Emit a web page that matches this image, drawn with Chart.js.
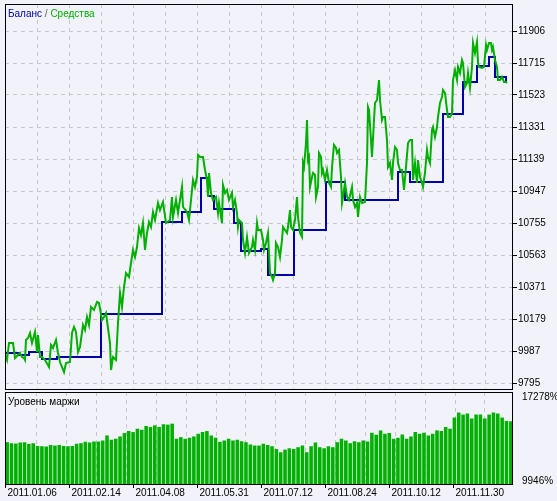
<!DOCTYPE html>
<html><head><meta charset="utf-8">
<script src="https://cdn.jsdelivr.net/npm/chart.js@4"></script>
<style>
html,body{margin:0;padding:0;background:#f2f2fa;overflow:hidden;}
canvas{position:absolute;left:0;display:block;}
#c1{top:0;}
#c2{top:391px;}
</style></head><body>
<canvas id="c1" width="557" height="391" style="width:557px;height:391px"></canvas>
<canvas id="c2" width="557" height="110" style="width:557px;height:110px"></canvas>
<script>
const priceTicks=[9795,9987,10179,10371,10563,10755,10947,11139,11331,11523,11715,11906];
const dateLabels=["2011.01.06","2011.02.14","2011.04.08","2011.05.31","2011.07.12","2011.08.24","2011.10.12","2011.11.30"];
const marginTicks=[9946,17278];
const eqT=[5,7,9,13,15,18,20,22,24,25,26,28,30,32,35,37,38,40,42,45,49,51,53,56,58,60,64,66,70,72,74,76,78,80,83,85,87,89,91,94,97,99,102,104,106,110,111,113,116,118,120,122,124,126,129,131,133,135,137,139,141,143,145,147,149,151,153,155,158,160,163,166,170,172,173,176,178,182,183,187,189,191,193,195,197,198,200,203,205,207,208,209,211,213,216,218,219,222,223,225,227,229,232,233,235,237,238,239,242,243,245,247,249,252,253,255,257,258,261,263,264,266,268,269,270,272,273,275,276,278,280,282,283,285,287,288,290,291,293,295,297,298,300,302,303,304,306,307,308,309,310,312,313,315,316,318,319,321,322,323,325,327,329,331,332,334,336,337,339,341,342,343,345,347,349,352,353,355,357,358,360,362,365,367,368,369,371,372,374,375,377,379,380,382,383,385,387,388,390,392,393,395,397,398,400,402,404,406,408,410,412,413,415,417,418,420,422,423,425,427,428,430,432,433,435,437,438,440,442,443,445,447,448,450,452,453,455,457,458,460,462,463,465,467,468,470,472,473,475,477,478,479,482,484,486,487,489,491,492,493,495,497,498,500,502,504,506,507];
const eqV=[9969,9933,10035,10035,9945,9963,9975,9951,9945,9933,10053,10065,10095,10035,10101,9981,10083,9951,9951,9933,9891,10023,10005,10053,9975,9921,9861,9915,9921,10095,10131,10101,9981,10011,10143,10113,10191,10143,10251,10233,10281,10275,10173,10191,10215,10035,9873,9951,9933,10155,10335,10251,10371,10455,10431,10515,10593,10551,10611,10725,10683,10755,10593,10695,10761,10731,10821,10773,10875,10833,10881,10755,10773,10911,10791,10893,10815,10971,10851,10821,10773,10893,11013,10971,11031,11163,11151,11151,11073,11013,10911,11055,10935,10893,10911,10815,10875,10755,10983,10935,10953,10893,10935,10851,10893,10815,10731,10773,10755,10653,10575,10671,10575,10611,10653,10593,10755,10713,10713,10653,10593,10635,10695,10575,10455,10431,10413,10455,10635,10611,10551,10653,10731,10713,10695,10731,10833,10731,10713,10773,10911,10791,10695,10671,11115,11091,11235,11373,11133,11151,10971,11031,11055,11043,10911,10971,11175,11151,11055,11073,11013,11073,10995,10971,11091,11223,11205,11175,11193,11031,10875,10911,10995,10911,10893,10971,10893,10851,10875,10791,10911,10875,10881,11115,11451,11433,11253,11151,11373,11475,11493,11613,11493,11373,11391,11391,11253,11091,11115,11013,11115,11211,11193,11115,11073,11073,10953,11091,11235,11253,11253,11013,11115,10995,11133,11031,10995,10971,11055,11193,11151,11115,11313,11331,11271,11331,11391,11475,11511,11553,11535,11433,11391,11391,11415,11613,11673,11613,11691,11655,11733,11715,11571,11595,11655,11565,11691,11835,11775,11841,11715,11691,11685,11691,11823,11793,11835,11835,11793,11811,11733,11691,11613,11613,11631,11601,11601,11595];
const balT=[5,19,29,42,57,101,162,182,201,208,214,234,241,261,268,294,326,345,398,410,443,463,477,489,495,506,507];
const balV=[9975,9963,9981,9939,9951,10209,10761,10821,11025,10917,10839,10755,10587,10599,10443,10713,11001,10893,11061,11001,11409,11601,11697,11751,11631,11601,11601];
const marginV=[13331,13243,13214,13302,13331,13184,13243,13008,12978,12949,13096,13037,13096,13008,12978,13008,13184,13243,13361,13302,13390,13390,13479,13920,13537,13626,13832,14126,14303,14214,14509,14420,14744,14656,14803,14656,14891,14862,14950,13626,13773,13626,13714,13832,14067,14214,14303,13920,13714,13361,13479,13626,13479,13537,13420,13331,13125,13037,13037,13184,13096,12978,12743,12448,12684,12802,12743,12890,13037,12448,12978,13302,12890,12802,12978,12890,13331,13626,13479,13243,13420,13331,13479,13390,14155,13979,14362,14067,14126,13626,13714,14008,13626,13832,14214,14067,14155,13920,14067,14362,14303,14656,14509,15480,15921,15745,15833,15392,15745,15745,15392,15745,15921,15833,15480,15186,15157];

const BG='#f2f2fa', GRID='#c6c6d0', GREEN='#00b000', BLUE='#0000aa';
const FAM='"Liberation Sans", Arial, sans-serif';
const FONT={family:FAM,size:10};
Chart.defaults.animation=false;
Chart.defaults.font=FONT;
Chart.defaults.color='#000';
const XMIN=5, XMAX=513;
const xPix=(ca,v)=>ca.left+(v-XMIN)/(XMAX-XMIN)*(ca.right-ca.left);
const fitY=(s)=>{s.width=44;s.paddingTop=0;s.paddingBottom=0;};

const frame={id:'frame',afterDraw(ch,a,o){const c=ch.ctx,ca=ch.chartArea;c.save();c.strokeStyle='#000';c.lineWidth=1;
 c.strokeRect(Math.round(ca.left)+0.5,Math.round(ca.top)+0.5,Math.round(ca.right-ca.left)-1,Math.round(ca.bottom-ca.top));
 c.font='10px '+FAM;c.textBaseline='top';c.textAlign='left';
 let x=ca.left+3,y=ca.top+5;
 (o.parts||[]).forEach(p=>{c.fillStyle=p[1];c.fillText(p[0],x,y);x+=c.measureText(p[0]).width;});
 if(o.dates){c.fillStyle='#000';c.beginPath();
  o.dates.forEach((d,k)=>{const px=Math.round(xPix(ca,XMIN+64*k))+0.5;c.fillText(d,px+2,ca.bottom+4);c.moveTo(px,ca.bottom);c.lineTo(px,ca.bottom+4);});
  c.stroke();}
 c.restore();}};
const bgp={id:'bgp',beforeDraw(ch){const c=ch.ctx;c.save();c.fillStyle=BG;c.fillRect(0,0,ch.width,ch.height);c.restore();}};

new Chart(document.getElementById('c1'),{
 type:'line',
 data:{datasets:[
  {data:eqT.map((t,i)=>({x:t,y:eqV[i]})),borderColor:GREEN,borderWidth:2,pointRadius:0,tension:0},
  {data:balT.map((t,i)=>({x:t,y:balV[i]})),borderColor:BLUE,borderWidth:2,pointRadius:0,stepped:'before'}
 ]},
 options:{responsive:false,devicePixelRatio:1,layout:{padding:{left:5,top:4,bottom:2,right:0}},
  plugins:{legend:{display:false},tooltip:{enabled:false},frame:{parts:[['Баланс',BLUE],[' / ','#666'],['Средства',GREEN]]}},
  scales:{
   x:{type:'linear',min:XMIN,max:XMAX,ticks:{display:false},afterBuildTicks(s){s.ticks=[];for(let v=37;v<513;v+=32)s.ticks.push({value:v});},
      grid:{color:GRID,drawTicks:false},border:{display:false,dash:[4,4]},afterFit(s){s.height=0;s.paddingLeft=0;s.paddingRight=0;}},
   y:{position:'right',min:9759,max:12069,afterBuildTicks(s){s.ticks=priceTicks.map(v=>({value:v}));},
      ticks:{callback:(v,i)=>String(priceTicks[i]),padding:1,font:FONT},
      grid:{color:GRID,tickColor:'#000',tickLength:4,tickBorderDash:[0,0]},border:{display:false,dash:[4,4]},afterFit:fitY}
  }},
 plugins:[bgp,frame]
});

new Chart(document.getElementById('c2'),{
 type:'bar',
 data:{labels:marginV.map((v,i)=>i),datasets:[{data:marginV,backgroundColor:GREEN,barPercentage:0.82,categoryPercentage:1,xAxisID:'x'}]},
 options:{responsive:false,devicePixelRatio:1,layout:{padding:{left:5,top:1,right:0,bottom:0}},
  plugins:{legend:{display:false},tooltip:{enabled:false},frame:{parts:[['Уровень маржи','#000']],dates:dateLabels}},
  scales:{
   x:{display:false,offset:true},
   xd:{type:'linear',position:'bottom',min:XMIN,max:XMAX,afterBuildTicks(s){s.ticks=[];for(let v=37;v<513;v+=32)s.ticks.push({value:v});},
      ticks:{display:false},
      grid:{color:GRID,drawTicks:false},border:{display:false,dash:[4,4]},afterFit(s){s.height=17;s.paddingLeft=0;s.paddingRight=0;}},
   y:{position:'right',min:9680,max:17713,afterBuildTicks(s){s.ticks=marginTicks.map(v=>({value:v}));},
      ticks:{callback:(v,i)=>marginTicks[i]+'%',padding:1,font:FONT},grid:{display:false},border:{display:false},afterFit:fitY}
  }},
 plugins:[bgp,frame]
});
</script></body></html>
